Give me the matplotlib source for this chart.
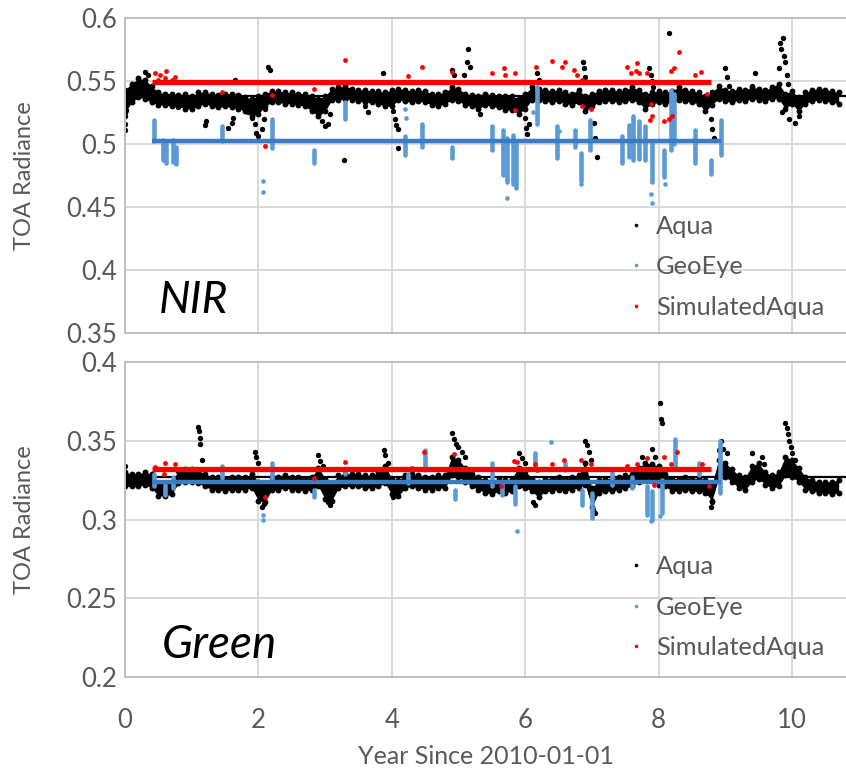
import numpy as np
import matplotlib
matplotlib.use("Agg")
import matplotlib.pyplot as plt
from matplotlib.lines import Line2D

plt.rcParams['font.family'] = ['Lato', 'DejaVu Sans']

# sampling grid of the Aqua record (years since 2010-01-01)
years = np.round(np.arange(0, 10.8, 0.1), 1)

# ---- NIR: Aqua band edges (x 0.001)
nir_aqua_hi = [543, 548, 552, 551, 546, 541, 540, 540, 539, 540,
               538, 541, 541, 540, 539, 540, 540, 539, 537, 536,
               538, 540, 542, 542, 541, 541, 540, 540, 538, 536,
               538, 544, 545, 546, 544, 543, 543, 542, 542, 541,
               543, 544, 543, 542, 543, 542, 540, 540, 541, 545,
               544, 540, 539, 538, 540, 539, 538, 538, 538, 536,
               540, 545, 544, 543, 542, 543, 541, 540, 543, 538,
               540, 542, 543, 543, 542, 543, 545, 543, 540, 541,
               542, 541, 542, 545, 543, 542, 541, 538, 541, 546,
               543, 542, 544, 543, 545, 544, 543, 545, 548, 540,
               542, 537, 541, 543, 544, 543, 542, 541]
nir_aqua_lo = [525, 533, 537, 536, 533, 531, 531, 530, 530, 528,
               528, 530, 532, 530, 529, 530, 529, 528, 526, 522,
               524, 530, 533, 533, 532, 532, 531, 530, 526, 522,
               526, 535, 535, 536, 535, 534, 533, 533, 532, 530,
               530, 535, 534, 533, 534, 533, 531, 530, 532, 535,
               534, 531, 530, 528, 531, 530, 529, 527, 527, 524,
               528, 535, 535, 534, 533, 534, 532, 531, 533, 526,
               530, 533, 534, 534, 533, 534, 535, 533, 528, 532,
               533, 532, 533, 535, 534, 533, 532, 526, 531, 536,
               534, 533, 535, 534, 536, 535, 534, 536, 536, 528,
               532, 526, 532, 534, 535, 534, 533, 532]
nir_aqua_out_x = [0.0, 0.0, 0.0, 0.02, 0.3, 0.35, 0.8, 1.2, 1.22, 1.55, 1.6, 1.62, 1.65,
                  1.85, 1.9, 1.95, 1.97, 2.0, 2.05, 2.08, 2.1, 2.15, 2.17, 2.85, 2.9, 2.95,
                  3.0, 3.05, 3.08, 3.28, 3.6, 3.65, 3.87, 4.02, 4.05, 4.07, 4.1, 4.1, 4.91,
                  4.93, 5.08, 5.13, 5.15, 5.17, 5.33, 6.0, 6.01, 6.03, 6.05, 6.18, 6.2, 6.86,
                  6.88, 6.9, 7.03, 7.05, 7.07, 7.86, 7.88, 7.9, 7.92, 8.16, 8.78, 8.8, 8.83,
                  9.0, 9.02, 9.05, 9.4, 9.45, 9.8, 9.82, 9.84, 9.86, 9.88, 9.9, 9.92, 9.94,
                  9.85, 9.95, 10.05, 10.1]
nir_aqua_out_y = [0.522, 0.516, 0.511, 0.527, 0.557, 0.555, 0.529, 0.515, 0.518, 0.513, 0.517,
                  0.521, 0.551, 0.525, 0.521, 0.516, 0.509, 0.506, 0.512, 0.52, 0.528, 0.561,
                  0.559, 0.527, 0.522, 0.518, 0.514, 0.516, 0.524, 0.487, 0.530, 0.525, 0.556,
                  0.526, 0.52, 0.515, 0.512, 0.497, 0.559, 0.555, 0.555, 0.565, 0.575, 0.561,
                  0.524, 0.521, 0.513, 0.508, 0.516, 0.556, 0.551, 0.565, 0.560, 0.553, 0.517,
                  0.505, 0.490, 0.560, 0.555, 0.550, 0.545, 0.588, 0.520, 0.512, 0.505, 0.560,
                  0.553, 0.546, 0.546, 0.556, 0.560, 0.580, 0.575, 0.584, 0.570, 0.565, 0.555,
                  0.548, 0.525, 0.520, 0.517, 0.522]
nir_aqua_level = 0.538

# ---- NIR: GeoEye (vertical runs of points + isolated points)
nir_geo_run_x = [0.43, 0.57, 0.62, 0.72, 0.76, 1.45, 2.2, 2.83, 3.3, 4.2, 4.45, 4.9, 5.5,
                 5.66, 5.72, 5.82, 5.86, 6.18, 6.47, 6.75, 6.83, 6.97, 7.45, 7.55, 7.62,
                 7.7, 7.8, 7.9, 8.08, 8.18, 8.23, 8.55, 8.78, 8.93]
nir_geo_run_lo = [0.502, 0.487, 0.485, 0.486, 0.484, 0.502, 0.497, 0.485, 0.520, 0.491, 0.498,
                  0.489, 0.495, 0.475, 0.470, 0.468, 0.465, 0.516, 0.489, 0.498, 0.471, 0.495,
                  0.485, 0.490, 0.487, 0.488, 0.487, 0.470, 0.474, 0.495, 0.500, 0.485, 0.476,
                  0.491]
nir_geo_run_hi = [0.519, 0.503, 0.500, 0.503, 0.498, 0.514, 0.520, 0.495, 0.533, 0.506, 0.516,
                  0.498, 0.514, 0.511, 0.505, 0.507, 0.500, 0.545, 0.514, 0.511, 0.493, 0.519,
                  0.506, 0.515, 0.522, 0.518, 0.514, 0.500, 0.495, 0.543, 0.540, 0.511, 0.487,
                  0.519]
nir_geo_pt_x = [2.07, 2.07, 5.73, 7.9, 7.88, 6.83, 8.1, 4.2, 4.22, 6.12, 6.5]
nir_geo_pt_y = [0.471, 0.462, 0.457, 0.453, 0.460, 0.468, 0.468, 0.528, 0.521, 0.525, 0.510]
nir_geo_level = 0.502

# ---- NIR: SimulatedAqua
nir_sim_x = [0.45, 0.53, 0.62, 0.75, 0.5, 0.6, 0.7, 1.45, 2.1, 2.2, 2.83, 3.3, 4.25, 4.45,
             4.9, 5.5, 5.68, 5.7, 5.84, 5.9, 5.85, 6.16, 6.4, 6.55, 6.6, 6.73, 6.78, 6.85,
             6.85, 6.98, 7.53, 7.58, 7.66, 7.68, 7.7, 7.83, 7.88, 7.87, 7.9, 8.08, 8.2,
             8.18, 8.23, 8.55, 8.63, 8.3, 8.73, 8.16]
nir_sim_y = [0.556, 0.555, 0.558, 0.553, 0.551, 0.552, 0.551, 0.541, 0.4985, 0.539, 0.544,
             0.567, 0.554, 0.561, 0.557, 0.556, 0.560, 0.555, 0.556, 0.549, 0.527, 0.561,
             0.566, 0.561, 0.565, 0.559, 0.555, 0.551, 0.530, 0.528, 0.561, 0.556, 0.558,
             0.564, 0.556, 0.556, 0.532, 0.519, 0.522, 0.518, 0.522, 0.558, 0.560, 0.555,
             0.557, 0.573, 0.540, 0.520]
nir_sim_level = 0.549

# ---- Green: Aqua band edges (x 0.001)
grn_aqua_hi = [330, 329, 329, 330, 329, 323, 323, 324, 331, 332,
               332, 331, 329, 327, 327, 326, 327, 327, 327, 329,
               324, 322, 327, 327, 328, 327, 327, 326, 327, 333,
               326, 323, 328, 329, 329, 329, 328, 328, 330, 334,
               326, 325, 328, 329, 328, 327, 327, 328, 328, 340,
               338, 333, 329, 327, 325, 324, 326, 325, 326, 333,
               331, 326, 324, 326, 326, 327, 326, 327, 328, 336,
               320, 325, 326, 326, 327, 328, 329, 333, 336, 335,
               334, 329, 326, 326, 327, 326, 326, 325, 322, 338,
               336, 332, 328, 327, 334, 336, 330, 328, 330, 340,
               338, 333, 327, 325, 324, 324, 324, 325]
grn_aqua_lo = [321, 321, 321, 322, 320, 315, 315, 316, 323, 324,
               324, 323, 321, 319, 319, 318, 319, 319, 319, 320,
               312, 311, 319, 319, 320, 319, 319, 318, 319, 321,
               313, 312, 320, 321, 321, 321, 320, 320, 321, 323,
               316, 315, 320, 321, 320, 319, 319, 320, 320, 328,
               327, 324, 321, 319, 317, 316, 318, 317, 318, 321,
               320, 318, 314, 318, 318, 319, 318, 319, 320, 322,
               308, 317, 318, 318, 319, 320, 321, 324, 326, 325,
               322, 321, 318, 318, 319, 318, 318, 317, 312, 326,
               327, 324, 320, 319, 324, 326, 322, 320, 321, 328,
               327, 324, 319, 318, 317, 317, 316, 317]
grn_aqua_out_x = [0.0, 1.1, 1.11, 1.12, 1.13, 1.15, 1.95, 1.97, 2.0, 2.05, 2.08, 2.9, 2.93,
                  2.97, 3.05, 3.08, 3.88, 3.9, 3.95, 4.02, 4.05, 4.9, 4.93, 4.96, 5.0, 5.05,
                  5.1, 5.9, 5.95, 6.0, 6.12, 6.15, 6.9, 6.93, 6.96, 6.98, 7.02, 7.05, 7.75,
                  7.9, 7.95, 8.02, 8.04, 8.05, 8.8, 8.78, 8.9, 8.93, 8.97, 9.02, 9.4, 9.55,
                  9.58, 9.9, 9.92, 9.94, 9.96, 9.98, 10.0, 10.05]
grn_aqua_out_y = [0.334, 0.359, 0.356, 0.352, 0.348, 0.338, 0.343, 0.340, 0.336, 0.308, 0.310,
                  0.341, 0.337, 0.334, 0.311, 0.309, 0.344, 0.341, 0.336, 0.314, 0.316, 0.355,
                  0.351, 0.348, 0.346, 0.343, 0.340, 0.342, 0.339, 0.336, 0.311, 0.309, 0.350,
                  0.347, 0.343, 0.338, 0.306, 0.304, 0.340, 0.3445, 0.340, 0.374, 0.364, 0.361,
                  0.311, 0.308, 0.344, 0.350, 0.345, 0.342, 0.342, 0.340, 0.335, 0.361, 0.358,
                  0.354, 0.350, 0.346, 0.342, 0.338]
grn_aqua_level = 0.327

# ---- Green: GeoEye
grn_geo_run_x = [0.43, 0.6, 0.72, 1.45, 2.2, 2.83, 3.3, 4.25, 4.5, 4.95, 5.5, 5.65, 5.85,
                 6.15, 6.6, 6.85, 7.0, 7.3, 7.6, 7.82, 7.9, 8.05, 8.25, 8.6, 8.92]
grn_geo_run_lo = [0.321, 0.3155, 0.320, 0.3264, 0.325, 0.314, 0.329, 0.323, 0.3316, 0.313,
                  0.321, 0.3155, 0.310, 0.334, 0.3316, 0.309, 0.301, 0.322, 0.320, 0.303,
                  0.300, 0.304, 0.334, 0.328, 0.317]
grn_geo_run_hi = [0.329, 0.322, 0.327, 0.334, 0.336, 0.319, 0.332, 0.329, 0.3444, 0.319,
                  0.336, 0.323, 0.321, 0.342, 0.336, 0.319, 0.317, 0.332, 0.327, 0.321,
                  0.318, 0.325, 0.351, 0.336, 0.350]
grn_geo_pt_x = [2.07, 2.07, 5.88, 6.38, 7.88, 8.02]
grn_geo_pt_y = [0.3027, 0.300, 0.2926, 0.349, 0.299, 0.302]
grn_geo_level = 0.324

# ---- Green: SimulatedAqua
grn_sim_x = [0.45, 0.6, 0.75, 0.59, 2.1, 2.83, 3.3, 4.3, 4.49, 4.94, 5.5, 5.63, 5.83, 5.88,
             6.15, 6.18, 6.4, 6.58, 6.83, 6.98, 7.53, 7.68, 7.83, 7.93, 8.08, 8.18, 8.28,
             8.65, 8.75]
grn_sim_y = [0.3335, 0.336, 0.335, 0.3288, 0.3143, 0.3266, 0.3363, 0.333, 0.3426, 0.3416,
             0.332, 0.321, 0.337, 0.3365, 0.335, 0.3316, 0.335, 0.338, 0.338, 0.335, 0.334,
             0.335, 0.339, 0.322, 0.340, 0.335, 0.343, 0.335, 0.321]
grn_sim_level = 0.332

# time spans of the flat reference lines
aqua_span = [0.0, 10.81]
geo_span = [0.41, 8.94]
sim_span = [0.41, 8.79]

C_AQUA = '#000000'
C_GEO = '#5b9bd5'
C_GEO_LINE = '#3a7cc3'
C_SIM = '#ff0000'
GREY = '#595959'


def draw_panel(ax, aqua_hi, aqua_lo, aqua_ox, aqua_oy, aqua_lvl,
               geo_rx, geo_rlo, geo_rhi, geo_px, geo_py, geo_lvl,
               sim_x, sim_y, sim_lvl):
    hi = np.array(aqua_hi) / 1000.0
    lo = np.array(aqua_lo) / 1000.0
    # Aqua
    ax.fill_between(years, lo, hi, color=C_AQUA, lw=0, zorder=2)
    ax.scatter(years, hi, s=18, color=C_AQUA, lw=0, zorder=2)
    ax.scatter(years, lo, s=18, color=C_AQUA, lw=0, zorder=2)
    ax.scatter(aqua_ox, aqua_oy, s=15, color=C_AQUA, lw=0, zorder=2)
    ax.plot(aqua_span, [aqua_lvl] * 2, color=C_AQUA, lw=1.6, zorder=2)
    # GeoEye
    ax.vlines(geo_rx, geo_rlo, geo_rhi, color=C_GEO, lw=3.3, zorder=3,
              capstyle='round')
    ax.scatter(geo_px, geo_py, s=11, color=C_GEO, lw=0, zorder=3)
    ax.plot(geo_span, [geo_lvl] * 2, color=C_GEO_LINE, lw=3.2, zorder=3,
            solid_capstyle='butt')
    # SimulatedAqua
    ax.scatter(sim_x, sim_y, s=12, color=C_SIM, lw=0, zorder=4)
    ax.plot(sim_span, [sim_lvl] * 2, color=C_SIM, lw=3.8, zorder=4,
            solid_capstyle='butt')


def style_axis(ax, ylim, yticks, ylabels):
    ax.set_xlim(0, 10.81)
    ax.set_ylim(*ylim)
    ax.set_xticks([0, 2, 4, 6, 8, 10])
    ax.set_yticks(yticks)
    ax.set_yticklabels(ylabels)
    ax.grid(True, color='#d9d9d9', lw=1.4, zorder=0)
    ax.set_axisbelow(True)
    for s in ['left', 'top', 'bottom']:
        ax.spines[s].set_color('#bfbfbf')
        ax.spines[s].set_linewidth(1.4)
    ax.spines['right'].set_visible(False)
    ax.tick_params(length=0, labelsize=18.5, labelcolor=GREY, pad=6)
    ax.set_ylabel('TOA Radiance', fontsize=17, color=GREY)
    ax.yaxis.set_label_coords(-0.125, 0.5)


def add_legend(ax, y):
    handles = [Line2D([], [], ls='', marker='o', ms=2.6, color=c, mec='none')
               for c in (C_AQUA, C_GEO, C_SIM)]
    leg = ax.legend(handles, ['Aqua', 'GeoEye', 'SimulatedAqua'], loc='center left',
                    bbox_to_anchor=(0.68, y), frameon=False, fontsize=18.3,
                    handlelength=0.6, handletextpad=0.5, labelspacing=0.68,
                    borderpad=0)
    for t in leg.get_texts():
        t.set_color(GREY)


fig = plt.figure(figsize=(8.46, 7.70), dpi=100)
ax1 = fig.add_axes([125 / 846, 1 - 333 / 770, 721 / 846, 315 / 770])
ax2 = fig.add_axes([125 / 846, 1 - 677 / 770, 721 / 846, 315 / 770])

draw_panel(ax1, nir_aqua_hi, nir_aqua_lo, nir_aqua_out_x, nir_aqua_out_y, nir_aqua_level,
           nir_geo_run_x, nir_geo_run_lo, nir_geo_run_hi, nir_geo_pt_x, nir_geo_pt_y,
           nir_geo_level, nir_sim_x, nir_sim_y, nir_sim_level)
draw_panel(ax2, grn_aqua_hi, grn_aqua_lo, grn_aqua_out_x, grn_aqua_out_y, grn_aqua_level,
           grn_geo_run_x, grn_geo_run_lo, grn_geo_run_hi, grn_geo_pt_x, grn_geo_pt_y,
           grn_geo_level, grn_sim_x, grn_sim_y, grn_sim_level)

style_axis(ax1, (0.35, 0.6), [0.35, 0.4, 0.45, 0.5, 0.55, 0.6],
           ['0.35', '0.4', '0.45', '0.5', '0.55', '0.6'])
style_axis(ax2, (0.2, 0.4), [0.2, 0.25, 0.3, 0.35, 0.4],
           ['0.2', '0.25', '0.3', '0.35', '0.4'])
ax1.tick_params(labelbottom=False)
ax2.tick_params(axis='x', pad=22)
ax2.set_xlabel('Year Since 2010-01-01', fontsize=18, color=GREY)
ax2.xaxis.set_label_coords(0.5, -0.215)

add_legend(ax1, 0.21)
add_legend(ax2, 0.222)

ax1.text(0.047, 0.065, 'NIR', transform=ax1.transAxes, fontsize=32, style='italic',
         va='baseline')
ax2.text(0.051, 0.06, 'Green', transform=ax2.transAxes, fontsize=33, style='italic',
         va='baseline')

fig.savefig('out.png', dpi=100)
